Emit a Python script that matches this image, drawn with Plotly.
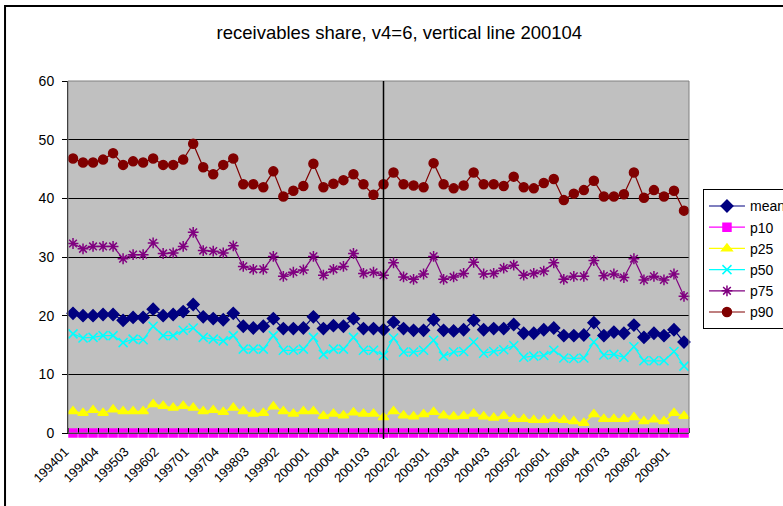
import plotly.graph_objects as go

# Quarterly periods 1994Q1 .. 2009Q2 (yyyyqq)
periods = [f"{y}{q:02d}" for y in range(1994, 2010) for q in range(1, 5)][:62]

tick_labels = ["199401", "199404", "199503", "199602", "199701", "199704",
               "199803", "199902", "200001", "200004", "200103", "200202",
               "200301", "200304", "200403", "200502", "200601", "200604",
               "200703", "200802", "200901"]

mean = [20.4, 20.0, 20.0, 20.2, 20.2, 19.2, 19.7, 19.7, 21.1, 20.0,
        20.2, 20.7, 21.9, 19.8, 19.5, 19.3, 20.4, 18.2, 17.9, 18.2,
        19.5, 17.8, 17.8, 17.9, 19.8, 17.8, 18.3, 18.2, 19.5, 17.8,
        17.8, 17.6, 18.9, 17.8, 17.5, 17.5, 19.3, 17.5, 17.4, 17.6,
        19.2, 17.6, 17.8, 17.8, 18.5, 17.0, 17.0, 17.6, 17.9, 16.6,
        16.6, 16.7, 18.8, 16.6, 17.2, 17.0, 18.4, 16.3, 17.0, 16.6,
        17.6, 15.5]

p10 = [0.0] * 62

p25 = [3.7, 3.4, 3.9, 3.4, 4.0, 3.7, 3.7, 3.7, 4.9, 4.6,
       4.3, 4.6, 4.3, 3.7, 3.9, 3.6, 4.3, 3.7, 3.3, 3.4,
       4.5, 3.7, 3.3, 3.7, 3.7, 2.9, 3.3, 3.0, 3.5, 3.3,
       3.3, 2.7, 3.7, 3.0, 2.8, 3.2, 3.6, 3.0, 2.8, 2.9,
       3.3, 2.8, 2.6, 2.9, 2.4, 2.4, 2.2, 2.2, 2.4, 2.2,
       2.0, 1.7, 3.2, 2.4, 2.4, 2.4, 2.7, 2.0, 2.3, 2.0,
       3.4, 2.9]

p50 = [16.9, 16.2, 16.3, 16.6, 16.6, 15.4, 16.0, 15.9, 18.2, 16.6,
       16.6, 17.5, 17.9, 16.3, 16.0, 15.7, 16.6, 14.3, 14.3, 14.3,
       16.6, 14.1, 14.1, 14.3, 16.3, 13.4, 14.3, 14.3, 16.3, 14.1,
       14.1, 13.2, 16.2, 13.8, 13.8, 14.1, 15.8, 13.1, 13.8, 13.9,
       15.5, 13.6, 13.9, 14.2, 14.9, 12.9, 13.1, 13.2, 14.1, 12.8,
       12.7, 12.8, 15.5, 13.3, 13.4, 12.9, 14.7, 12.3, 12.3, 12.3,
       13.9, 11.4]

p75 = [32.3, 31.4, 31.8, 31.8, 31.8, 29.7, 30.4, 30.4, 32.4, 30.6,
       30.7, 31.8, 34.2, 31.1, 31.0, 30.7, 31.9, 28.4, 27.9, 27.9,
       30.1, 26.7, 27.4, 27.8, 30.1, 26.9, 27.9, 28.4, 30.6, 27.2,
       27.4, 26.9, 29.0, 26.6, 26.2, 27.1, 30.1, 26.2, 26.6, 27.2,
       29.1, 27.1, 27.2, 28.1, 28.6, 26.9, 27.2, 27.6, 29.0, 26.2,
       26.7, 26.7, 29.4, 26.8, 27.1, 26.5, 29.7, 26.1, 26.7, 26.1,
       27.1, 23.3]

p90 = [46.8, 46.1, 46.1, 46.6, 47.7, 45.7, 46.3, 46.1, 46.8, 45.7,
       45.7, 46.6, 49.3, 45.3, 44.1, 45.7, 46.8, 42.4, 42.4, 41.9,
       44.6, 40.3, 41.3, 42.1, 45.9, 41.9, 42.5, 43.1, 44.1, 42.4,
       40.6, 42.4, 44.4, 42.4, 42.2, 41.9, 46.0, 42.4, 41.7, 42.2,
       44.4, 42.4, 42.4, 42.1, 43.7, 41.9, 41.7, 42.6, 43.3, 39.7,
       40.8, 41.4, 43.0, 40.3, 40.3, 40.7, 44.4, 40.1, 41.4, 40.3,
       41.3, 37.9]

break_period = "200104"

FONT = "Liberation Sans"
x = list(range(len(periods)))

series = [
    ("mean", mean, "#000080", "diamond", 9),
    ("p10", p10, "#FF00FF", "square", 8),
    ("p25", p25, "#FFFF00", "triangle-up", 9),
    ("p50", p50, "#00FFFF", "x-thin-open", 9),
    ("p75", p75, "#800080", "asterisk-open", 9),
    ("p90", p90, "#800000", "circle", 9),
]

fig = go.Figure()
for name, vals, color, symbol, size in series:
    fig.add_trace(go.Scatter(
        x=x, y=vals, name=name, mode="lines+markers",
        line=dict(color=color, width=1.2),
        marker=dict(symbol=symbol, size=size, color=color,
                    line=dict(color=color, width=1.5)),
        cliponaxis=False,
        customdata=periods,
        hovertemplate="%{customdata}: %{y}<extra>" + name + "</extra>",
    ))

label_pos = [periods.index(t) for t in tick_labels]
bx = periods.index(break_period)

fig.update_layout(
    width=783, height=506,
    margin=dict(l=68, r=94, t=81, b=73, autoexpand=False),
    paper_bgcolor="white",
    plot_bgcolor="#C0C0C0",
    font=dict(family=FONT, size=13, color="black"),
    title=dict(text="receivables share, v4=6, vertical line 200104",
               x=0.51, xanchor="center", y=0.935, yanchor="middle",
               font=dict(family=FONT, size=18.5, color="black")),
    showlegend=True,
    legend=dict(x=1.0225, xanchor="left", y=0.692, yanchor="top",
                bgcolor="white", bordercolor="black", borderwidth=1,
                font=dict(family=FONT, size=14, color="black"),
                itemwidth=36, tracegroupgap=0),
    xaxis=dict(
        range=[-0.5, len(periods) - 0.5],
        tickmode="array", tickvals=label_pos, ticktext=tick_labels,
        tickangle=-45, ticks="", showgrid=False, zeroline=False,
        showline=True, linecolor="black", linewidth=1,
        ticklabelshift=-8, ticklabelstandoff=5,
        tickfont=dict(family=FONT, size=13, color="black"),
        minor=dict(tickmode="array",
                   tickvals=[i - 0.5 for i in range(len(periods) + 1)],
                   ticks="inside", ticklen=5, tickcolor="black",
                   showgrid=False),
    ),
    yaxis=dict(
        range=[0, 60], dtick=10, ticks="outside", ticklen=5,
        tickcolor="black", showline=True, linecolor="black", linewidth=1,
        showgrid=True, gridcolor="black", gridwidth=1, zeroline=False,
        ticklabelstandoff=5,
        tickfont=dict(family=FONT, size=14, color="black"),
    ),
    shapes=[
        # plot area frame
        dict(type="rect", xref="paper", yref="paper", x0=0, x1=1, y0=0, y1=1,
             line=dict(color="#808080", width=1), layer="above"),
        # vertical marker at the break period
        dict(type="line", xref="x", yref="paper", x0=bx, x1=bx,
             y0=-0.017, y1=1, line=dict(color="black", width=1.5)),
        # chart area border
        dict(type="rect", xref="paper", yref="paper",
             x0=-0.1014, x1=2, y0=-1, y1=1.213,
             line=dict(color="black", width=2)),
    ],
)

fig.write_html("out.html")
